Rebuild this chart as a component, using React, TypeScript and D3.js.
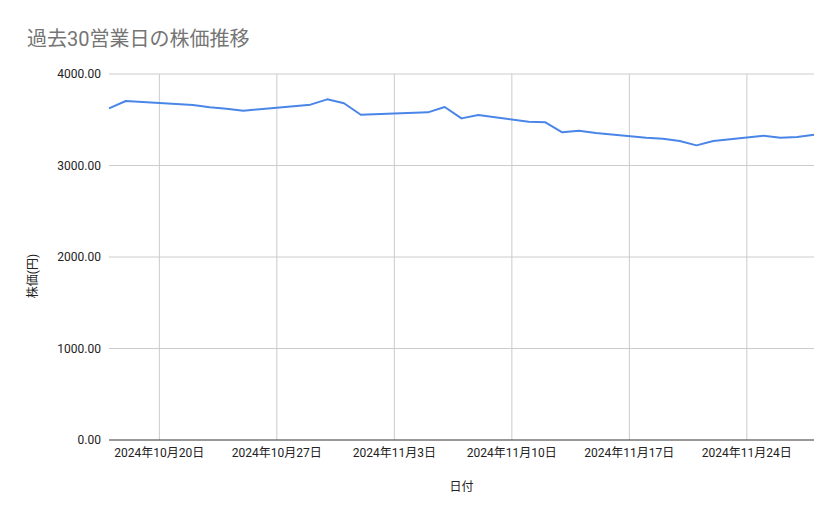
import * as d3 from "d3";

// 過去30営業日の株価推移 — line chart of closing price per business day

const DATES = [
  "2024-10-17", "2024-10-18",
  "2024-10-21", "2024-10-22", "2024-10-23", "2024-10-24", "2024-10-25",
  "2024-10-28", "2024-10-29", "2024-10-30", "2024-10-31", "2024-11-01",
  "2024-11-05", "2024-11-06", "2024-11-07", "2024-11-08",
  "2024-11-11", "2024-11-12", "2024-11-13", "2024-11-14", "2024-11-15",
  "2024-11-18", "2024-11-19", "2024-11-20", "2024-11-21", "2024-11-22",
  "2024-11-25", "2024-11-26", "2024-11-27", "2024-11-28",
];
const PRICES = [
  3625, 3705,
  3672, 3661, 3636, 3621, 3599,
  3648, 3665, 3723, 3680, 3555,
  3581, 3639, 3515, 3552,
  3479, 3472, 3363, 3381, 3355,
  3304, 3293, 3268, 3220, 3268,
  3326, 3304, 3311, 3337,
];
const Y_TICKS = [0, 1000, 2000, 3000, 4000];
const X_TICKS = ["2024-10-20", "2024-10-27", "2024-11-03", "2024-11-10", "2024-11-17", "2024-11-24"];

const W = 839;
const H = 519;
const MARGIN = { top: 74, right: 25, bottom: 79, left: 109 };
const FONT = "Roboto, 'Noto Sans CJK JP', sans-serif";

const parse = d3.utcParse("%Y-%m-%d");

export default function App() {
  const innerW = W - MARGIN.left - MARGIN.right;
  const innerH = H - MARGIN.top - MARGIN.bottom;

  const points = DATES.map((d, i) => ({ date: parse(d) as Date, value: PRICES[i] }));

  const x = d3.scaleUtc()
    .domain(d3.extent(points, (p) => p.date) as [Date, Date])
    .range([0, innerW]);
  const y = d3.scaleLinear().domain([0, 4000]).range([innerH, 0]);

  const line = d3.line<{ date: Date; value: number }>()
    .x((p) => x(p.date))
    .y((p) => y(p.value));

  const fmtTick = (d: Date) =>
    `${d.getUTCFullYear()}年${d.getUTCMonth() + 1}月${d.getUTCDate()}日`;

  return (
    <svg width={W} height={H}
      style={{ position: "absolute", left: 0, top: 0, background: "#fff" }}>
      {/* Title */}
      <text x={27} y={46} fontSize={20} fontFamily={FONT} fill="#757575">
        過去30営業日の株価推移
      </text>

      <g transform={`translate(${MARGIN.left},${MARGIN.top})`}>
        {/* Horizontal gridlines */}
        {Y_TICKS.filter((t) => t > 0).map((t) => (
          <line key={t} x1={0} x2={innerW} y1={y(t)} y2={y(t)}
            stroke="#cccccc" strokeWidth={1} />
        ))}

        {/* Vertical gridlines */}
        {X_TICKS.map((t) => {
          const xp = x(parse(t) as Date);
          return (
            <line key={t} x1={xp} x2={xp} y1={0} y2={innerH}
              stroke="#cccccc" strokeWidth={1} />
          );
        })}

        {/* Baseline */}
        <line x1={0} x2={innerW} y1={innerH} y2={innerH} stroke="#333333" strokeWidth={1} />

        {/* Price line */}
        <path d={line(points) ?? ""} fill="none" stroke="#4a86e8"
          strokeWidth={2} strokeLinejoin="round" />

        {/* Y tick labels */}
        {Y_TICKS.map((t) => (
          <text key={`yl${t}`} x={-8} y={y(t)} dy="0.35em" textAnchor="end"
            fontSize={12} fontFamily={FONT} fill="#222222">
            {t.toFixed(2)}
          </text>
        ))}

        {/* X tick labels */}
        {X_TICKS.map((t) => {
          const d = parse(t) as Date;
          return (
            <text key={`xl${t}`} x={x(d)} y={innerH + 17} textAnchor="middle"
              fontSize={12} fontFamily={FONT} fill="#222222">
              {fmtTick(d)}
            </text>
          );
        })}
      </g>

      {/* Axis titles */}
      <text x={MARGIN.left + innerW / 2} y={491} textAnchor="middle"
        fontSize={12} fontFamily={FONT} fill="#222222">
        日付
      </text>
      <text transform={`translate(37,276) rotate(-90)`}
        textAnchor="middle" fontSize={12} fontFamily={FONT} fill="#222222">
        株価(円)
      </text>
    </svg>
  );
}
